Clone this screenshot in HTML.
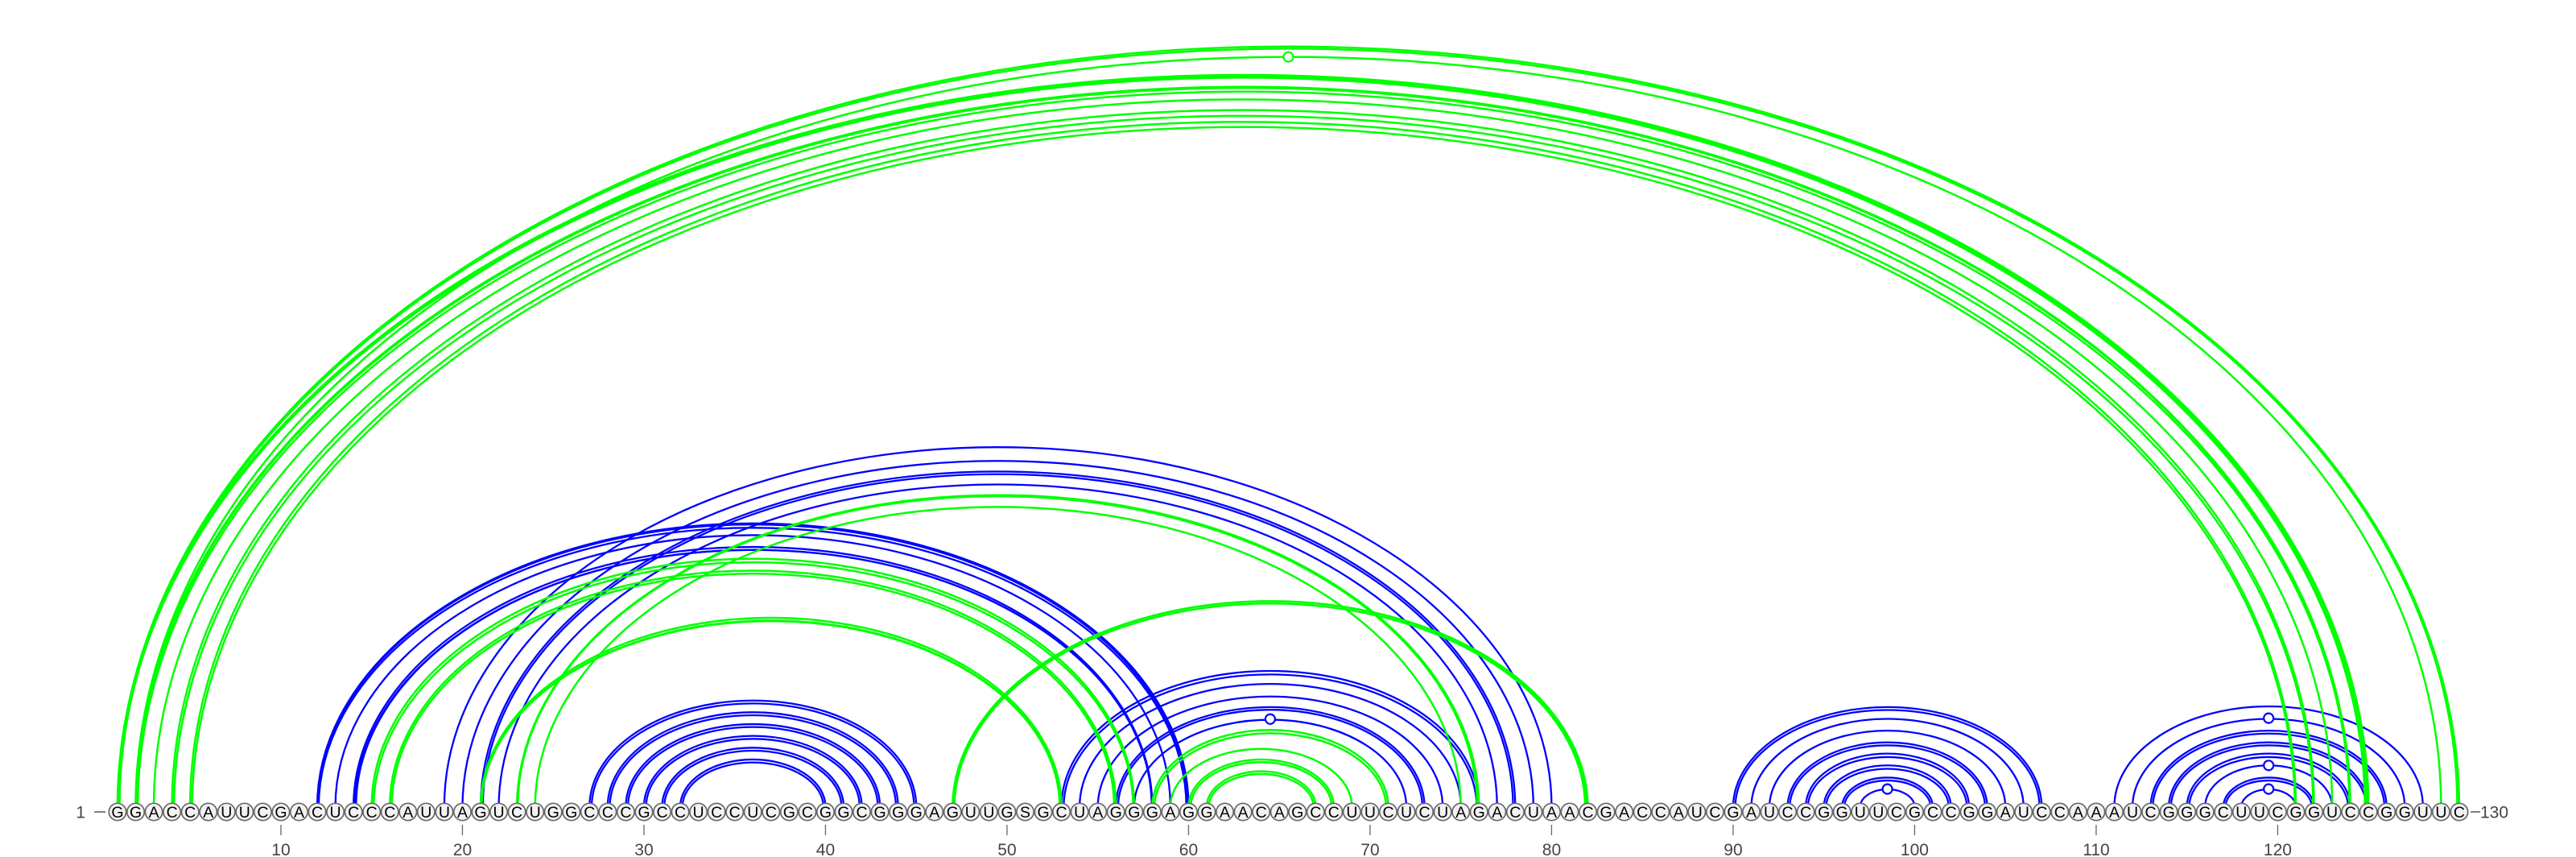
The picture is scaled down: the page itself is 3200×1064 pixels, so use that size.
<!DOCTYPE html>
<html lang="en">
<head>
<meta charset="utf-8">
<title>RNA arc diagram</title>
<style>
html,body{margin:0;padding:0;background:#fff;}
#arc-diagram{display:block;width:3200px;height:1064px;background:#fff;}
text{font-family:"Liberation Sans",sans-serif;}
</style>
</head>
<body>
<svg id="arc-diagram" xmlns="http://www.w3.org/2000/svg" width="3200" height="1064" viewBox="0 0 3200 1064">
  <g id="blue-arcs" fill="none" stroke="#0000ff" stroke-width="2.3"></g>
  <g id="green-arcs" fill="none" stroke="#00ff00" stroke-width="2.5"></g>
  <g id="arc-markers"></g>
  <g id="backbone"></g>
  <g id="ticks"></g>
  <text x="106" y="1015.5" text-anchor="end" font-size="21" fill="#444">1</text>
  <line x1="117" y1="1008" x2="131" y2="1008" stroke="#555" stroke-width="1.5"></line>
  <line x1="3069" y1="1008" x2="3081" y2="1008" stroke="#555" stroke-width="1.5"></line>
  <text x="3081" y="1015.5" font-size="21" fill="#444">130</text>
</svg>
<script>
// Sequence, one letter per position
const sequence = "GGACCAUUCGACUCCCAUUAGUCUGGCCCGCCUCCUCGCGGCGGGAGUUGSGCUAGGGAGGAACAGCCUUCUCUAGACUAACGACCAUCGAUCCGGUUCGCCGGAUCCAAAUCGGGCUUCGGUCCGGUUC";

// Tick positions (sequence index)
const tickPositions = [10,20,30,40,50,60,70,80,90,100,110,120];

// Arcs: [start position, end position, apex height in span units (defaults to span)]
const greenArcs = [
  [1,130,129.1],[1.11,129.89,128.4],
  [2,129,127],
  [1,125],[1.03,124.9,123.7],[1.06,124.8,123.55],
  [2,124],[2.11,123.95,121.45],[2.05,123.98,121.8],
  [3,123,119.8],
  [4,122],[4.11,121.95,117.35],
  [5,121],[5.11,120.95,115.45],
  [15,57],[15.11,56.95,41.6],
  [16,56],[16.11,55.9,39.5],
  [21,53],[21.03,52.95,31.7],[21.06,52.9,31.45],
  [23,76],[23.05,75.9,52.6],
  [24,75],
  [47,82],[47.05,81.9,34.8],[47.1,81.85,34.6],
  [58,71],[58.12,70.88,12.55],
  [59,69,9.8],
  [60,68],[60.12,67.88,7.55],
  [61,67],[61.12,66.88,5.55]
];

const blueArcs = [
  [12,60],[12.04,59.92,47.8],[12.08,59.88,47.45],
  [13,59],
  [14,58],[14.07,57.99,43.7],[14.14,57.97,43.5],
  [19,80,60.9],
  [20,79,58.8],
  [21,78],[21.12,77.88,56.55],
  [22,77,54.8],
  [27,45],[27.12,44.88,17.5],
  [28,44],[28.12,43.88,15.5],
  [29,43],[29.12,42.88,13.5],
  [30,42],[30.12,41.88,11.5],
  [31,41],[31.12,40.88,9.5],
  [32,40],[32.12,39.88,7.5],
  [53,76],[53.12,75.88,22.55],
  [54,75,20.8],
  [55,74,18.8],
  [56,73],[56.12,72.88,16.55],
  [57,72,14.85],
  [90,107],[90.12,106.88,16.5],
  [91,106],
  [92,105],
  [93,104],[93.12,103.88,10.5],
  [94,103],[94.12,102.88,8.5],
  [95,102],[95.12,101.88,6.5],
  [96,101],[96.12,100.88,4.5],
  [97,100],
  [111,128],
  [112,127],
  [113,126],[113.12,125.88,12.5],
  [114,125],[114.12,124.88,10.5],
  [115,124],[115.12,123.88,8.5],
  [116,123],
  [117,122],[117.12,121.88,4.5],
  [118,121]
];

// Arcs with an open circle at the apex: [start, end, apex height]
const greenMarkers = [[2,129,127]];
const blueMarkers = [[57,72,14.85],[97,100,3],[112,127,15],[116,123,7],[118,121,3]];

const SVGNS = "http://www.w3.org/2000/svg";
const xScale = function(pos){ return 146 + (pos - 1) * 22.55; };
const yScale = function(height){ return 1001.6 - height * 7.33; };
const BACKBONE_Y = 1008;

function arcPath(arc){
  const x0 = xScale(arc[0]);
  const x1 = xScale(arc[1]);
  const h = arc.length > 2 ? arc[2] : (arc[1] - arc[0]);
  const base = yScale(0);
  const ry = base - yScale(h);
  const rx = (x1 - x0) / 2;
  return "M" + x0.toFixed(2) + " " + base + " A" + rx.toFixed(2) + " " + ry.toFixed(2) + " 0 0 1 " + x1.toFixed(2) + " " + base;
}

function drawArcs(groupId, arcs){
  const g = document.getElementById(groupId);
  arcs.forEach(function(arc){
    const p = document.createElementNS(SVGNS, "path");
    p.setAttribute("d", arcPath(arc));
    
    
    g.appendChild(p);
  });
}
drawArcs("blue-arcs", blueArcs);
drawArcs("green-arcs", greenArcs);

function drawMarkers(markers, color){
  const g = document.getElementById("arc-markers");
  markers.forEach(function(m){
    const c = document.createElementNS(SVGNS, "circle");
    c.setAttribute("cx", xScale((m[0] + m[1]) / 2));
    c.setAttribute("cy", yScale(m[2]));
    c.setAttribute("r", 6);
    c.setAttribute("fill", "#fff");
    c.setAttribute("stroke", color);
    c.setAttribute("stroke-width", 2.2);
    
    
    g.appendChild(c);
  });
}
drawMarkers(blueMarkers, "#0000ff");
drawMarkers(greenMarkers, "#00ff00");

const backbone = document.getElementById("backbone");
sequence.split("").forEach(function(letter, idx){
  const x = xScale(idx + 1);
  const c = document.createElementNS(SVGNS, "circle");
  c.setAttribute("cx", x);
  c.setAttribute("cy", BACKBONE_Y);
  c.setAttribute("r", 10.7);
  c.setAttribute("fill", "#f2f2f2");
  c.setAttribute("stroke", "#666");
  c.setAttribute("stroke-width", 1.7);
  
  
  backbone.appendChild(c);
  const t = document.createElementNS(SVGNS, "text");
  t.setAttribute("x", x);
  t.setAttribute("y", BACKBONE_Y + 7);
  t.setAttribute("text-anchor", "middle");
  t.setAttribute("font-size", 19.5);
  t.setAttribute("fill", "#000");
  
  
  t.textContent = letter;
  backbone.appendChild(t);
});

const ticksGroup = document.getElementById("ticks");
tickPositions.forEach(function(pos){
  const x = xScale(pos);
  const l = document.createElementNS(SVGNS, "line");
  l.setAttribute("x1", x);
  l.setAttribute("x2", x);
  l.setAttribute("y1", 1024);
  l.setAttribute("y2", 1037);
  l.setAttribute("stroke", "#666");
  l.setAttribute("stroke-width", 1.3);
  
  
  ticksGroup.appendChild(l);
  const t = document.createElementNS(SVGNS, "text");
  t.setAttribute("x", x);
  t.setAttribute("y", 1062);
  t.setAttribute("text-anchor", "middle");
  t.setAttribute("font-size", 21);
  t.setAttribute("fill", "#444");
  
  
  t.textContent = String(pos);
  ticksGroup.appendChild(t);
});
</script>
</body>
</html>
